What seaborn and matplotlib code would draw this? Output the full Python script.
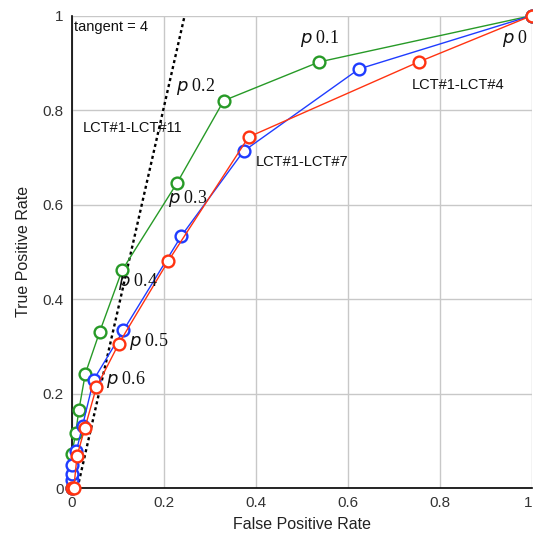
import matplotlib
matplotlib.use("Agg")
import matplotlib.pyplot as plt
import seaborn as sns
import pandas as pd

# Data
green_fpr = [0.0, 0.0, 0.008, 0.015, 0.029, 0.060, 0.109, 0.228, 0.330, 0.538, 1.0]
green_tpr = [0.0, 0.073, 0.116, 0.165, 0.242, 0.330, 0.461, 0.645, 0.820, 0.902, 1.0]

blue_fpr = [0.0, 0.0, 0.0, 0.0, 0.0095, 0.023, 0.047, 0.112, 0.238, 0.373, 0.624, 1.0]
blue_tpr = [0.0, 0.018, 0.029, 0.049, 0.078, 0.132, 0.229, 0.334, 0.534, 0.713, 0.887, 1.0]

red_fpr = [0.0, 0.004, 0.011, 0.028, 0.053, 0.102, 0.209, 0.384, 0.754, 1.0]
red_tpr = [0.0, 0.0, 0.068, 0.127, 0.213, 0.306, 0.480, 0.743, 0.902, 1.0]

tangent_x = [0.012, 0.245]
tangent_y = [0.0, 1.0]

ticks = [0, 0.2, 0.4, 0.6, 0.8, 1]
tick_labels = ["0", "0.2", "0.4", "0.6", "0.8", "1"]

series_names = ["LCT#1-LCT#11", "LCT#1-LCT#7", "LCT#1-LCT#4"]
series_colors = ["#279a27", "#1f3cff", "#ff3311"]

p_labels = ["p 0", "p 0.1", "p 0.2", "p 0.3", "p 0.4", "p 0.5", "p 0.6"]

sns.set_theme(style="whitegrid")
plt.rcParams["font.family"] = ["Liberation Sans", "DejaVu Sans"]

fig = plt.figure(figsize=(5.33, 5.37), dpi=100)
ax = fig.add_axes([0.135, 0.091, 0.863, 0.880])

frames = []
for name, xs, ys in zip(series_names, [green_fpr, blue_fpr, red_fpr],
                        [green_tpr, blue_tpr, red_tpr]):
    frames.append(pd.DataFrame({"fpr": xs, "tpr": ys, "series": name}))
df = pd.concat(frames, ignore_index=True)

tdf = pd.DataFrame({"x": tangent_x, "y": tangent_y})
sns.lineplot(data=tdf, x="x", y="y", ax=ax, color="black", lw=1.7,
             linestyle=(0, (1.3, 1.3)), sort=False, estimator=None, zorder=2)

for name, col in zip(series_names, series_colors):
    sub = df[df["series"] == name]
    sns.lineplot(data=sub, x="fpr", y="tpr", ax=ax, color=col, lw=1.0,
                 sort=False, estimator=None, marker="o", markersize=8.5,
                 markerfacecolor="white", markeredgecolor=col,
                 markeredgewidth=1.7, clip_on=False, zorder=3)

ax.set_xlim(0, 1)
ax.set_ylim(0, 1)
ax.set_xticks(ticks)
ax.set_xticklabels(tick_labels)
ax.set_yticks(ticks)
ax.set_yticklabels(tick_labels)
ax.get_xticklabels()[-1].set_ha("right")
ax.grid(True, color="#c8c8c8", lw=1.0)
ax.tick_params(labelsize=11, colors="#333333", length=0, pad=6)
for s in ["top", "right"]:
    ax.spines[s].set_visible(False)
for s in ["left", "bottom"]:
    ax.spines[s].set_visible(True)
    ax.spines[s].set_color("black")
    ax.spines[s].set_linewidth(1.2)
ax.set_xlabel("False Positive Rate", fontsize=11.5, color="#222222", labelpad=5)
ax.set_ylabel("True Positive Rate", fontsize=11.5, color="#222222", labelpad=8)

# Text annotations
ax.text(0.005, 0.975, "tangent = 4", fontsize=10.5, va="center", ha="left", color="#111111")
ax.text(0.024, 0.762, series_names[0], fontsize=10.5, va="center", ha="left", color="#111111")
ax.text(0.40, 0.69, series_names[1], fontsize=10.5, va="center", ha="left", color="#111111")
ax.text(0.738, 0.853, series_names[2], fontsize=10.5, va="center", ha="left", color="#111111")

p_pos = [(0.934, 0.952), (0.495, 0.952), (0.227, 0.849), (0.209, 0.613),
         (0.100, 0.438), (0.125, 0.311), (0.075, 0.230)]
for lab, (px, py) in zip(p_labels, p_pos):
    num = lab.split(" ")[1]
    ax.text(px, py, r"$p$" + " " + num, fontsize=13, va="center", ha="left",
            family=["Liberation Serif", "DejaVu Serif"], color="#111111")

fig.savefig("out.png", dpi=100)
